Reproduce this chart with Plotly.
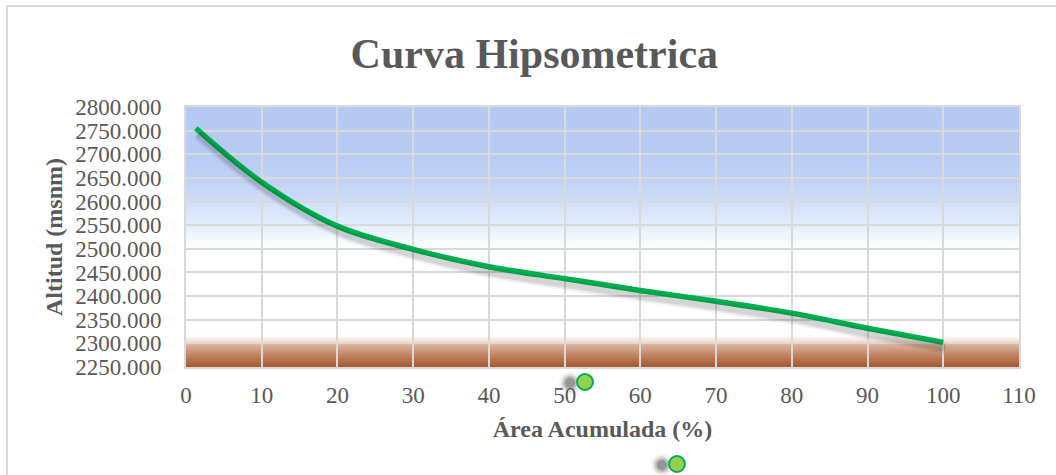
import plotly.graph_objects as go

# ---- data ----
area_pct = [1.3, 10, 20, 30, 40, 50, 60, 70, 80, 90, 100]
altitud = [2755, 2641, 2548, 2499, 2462, 2437, 2412, 2389, 2364, 2332, 2302]
x_ticks = list(range(0, 111, 10))
y_ticks = list(range(2250, 2801, 50))

W, H = 1056, 475
L, R, T, B = 186, 37, 107, 108
PW, PH = W - L - R, H - T - B
X_RANGE = [0, 110]
Y_RANGE = [2250, 2800]

GREY = "#595959"
FONT = "Liberation Serif, Times New Roman, serif"

# gradient stops (fraction of plot height from bottom, colour)
stops = [
    (0.00, (164, 90, 46)),
    (0.045, (192, 130, 94)),
    (0.0909, (220, 186, 164)),
    (0.095, (240, 218, 205)),
    (0.105, (248, 232, 224)),
    (0.122, (255, 255, 255)),
    (0.455, (255, 255, 255)),
    (0.49, (244, 250, 253)),
    (0.54, (228, 238, 252)),
    (0.63, (208, 223, 249)),
    (0.72, (192, 209, 245)),
    (0.84, (183, 202, 242)),
    (1.00, (182, 201, 242)),
]


def colour_at(f):
    for (f0, c0), (f1, c1) in zip(stops[:-1], stops[1:]):
        if f0 <= f <= f1:
            t = 0 if f1 == f0 else (f - f0) / (f1 - f0)
            c = [round(a + (b - a) * t) for a, b in zip(c0, c1)]
            return "rgb(%d,%d,%d)" % tuple(c)
    return "rgb(%d,%d,%d)" % stops[-1][1]


shapes = []
N = 130
for i in range(N):
    f0, f1 = i / N, (i + 1) / N
    shapes.append(dict(type="rect", xref="x domain", yref="y domain",
                       x0=0, x1=1, y0=f0, y1=f1 + 0.002, layer="below",
                       line=dict(width=0), fillcolor=colour_at((f0 + f1) / 2)))


def px_x(p):
    return (p - L) / PW


def px_y(p):
    return (H - B - p) / PH


# outer chart border
shapes.append(dict(type="rect", xref="paper", yref="paper",
                   x0=px_x(7), x1=px_x(1064), y0=px_y(482), y1=px_y(6),
                   line=dict(color="#d9d9d9", width=2), fillcolor="rgba(0,0,0,0)"))

# stray marker artefacts below the chart
for (cx, cy) in [(585, 382), (677, 464)]:
    for r, a in [(11, 0.06), (9, 0.12), (7, 0.2), (5, 0.3)]:
        shapes.append(dict(type="circle", xref="paper", yref="paper",
                           xsizemode="pixel", ysizemode="pixel",
                           xanchor=px_x(cx - 15), yanchor=px_y(cy + 1),
                           x0=-r, x1=r, y0=-r, y1=r,
                           line=dict(width=0), fillcolor="rgba(60,60,60,%s)" % a))
    shapes.append(dict(type="circle", xref="paper", yref="paper",
                       xsizemode="pixel", ysizemode="pixel",
                       xanchor=px_x(cx), yanchor=px_y(cy),
                       x0=-8, x1=8, y0=-8, y1=8,
                       line=dict(color="#00b050", width=2), fillcolor="#92d050"))

fig = go.Figure()

# soft shadow of the line (same data on offset overlay axes)
dx_units = 2 * (X_RANGE[1] - X_RANGE[0]) / PW
dy_units = 6 * (Y_RANGE[1] - Y_RANGE[0]) / PH
for w, a in [(12, 0.04), (9, 0.06), (6, 0.08)]:
    fig.add_trace(go.Scatter(x=area_pct, y=altitud, mode="lines",
                             line=dict(color="rgba(0,0,0,%s)" % a, width=w,
                                       shape="spline", smoothing=1.0),
                             xaxis="x2", yaxis="y2", hoverinfo="skip",
                             showlegend=False))

fig.add_trace(go.Scatter(x=area_pct, y=altitud, mode="lines",
                         line=dict(color="#00b050", width=5.5,
                                   shape="spline", smoothing=1.0),
                         showlegend=False))

fig.update_layout(
    width=W, height=H,
    margin=dict(l=L, r=R, t=T, b=B),
    paper_bgcolor="white", plot_bgcolor="white",
    shapes=shapes,
    title=dict(text="<b>Curva Hipsometrica</b>", x=0.506, xref="container",
               xanchor="center", y=1 - 53 / H, yanchor="middle",
               font=dict(family=FONT, size=42, color=GREY)),
    xaxis=dict(range=X_RANGE, tickvals=x_ticks, showgrid=True,
               gridcolor="#d9d9d9", gridwidth=1.5, zeroline=False,
               showline=True, mirror=True, linecolor="#d9d9d9", linewidth=2,
               ticks="", ticklabelstandoff=6,
               tickfont=dict(family=FONT, size=23, color=GREY),
               title=dict(text="<b>Área Acumulada (%)</b>", standoff=14,
                          font=dict(family=FONT, size=24, color=GREY))),
    yaxis=dict(range=Y_RANGE, tickvals=y_ticks, tickformat=".3f",
               showgrid=True, gridcolor="#d9d9d9", gridwidth=1.5,
               zeroline=False, showline=True, mirror=True,
               linecolor="#d9d9d9", linewidth=2, ticks="",
               ticklabelstandoff=18,
               tickfont=dict(family=FONT, size=23, color=GREY),
               title=dict(text="<b>Altitud (msnm)</b>", standoff=6,
                          font=dict(family=FONT, size=24, color=GREY))),
    xaxis2=dict(range=[X_RANGE[0] - dx_units, X_RANGE[1] - dx_units],
                overlaying="x", visible=False),
    yaxis2=dict(range=[Y_RANGE[0] + dy_units, Y_RANGE[1] + dy_units],
                overlaying="y", visible=False),
)

fig.write_html("out.html", config={"displayModeBar": False},
               post_script="document.body.style.margin='0';document.body.style.padding='0';")
